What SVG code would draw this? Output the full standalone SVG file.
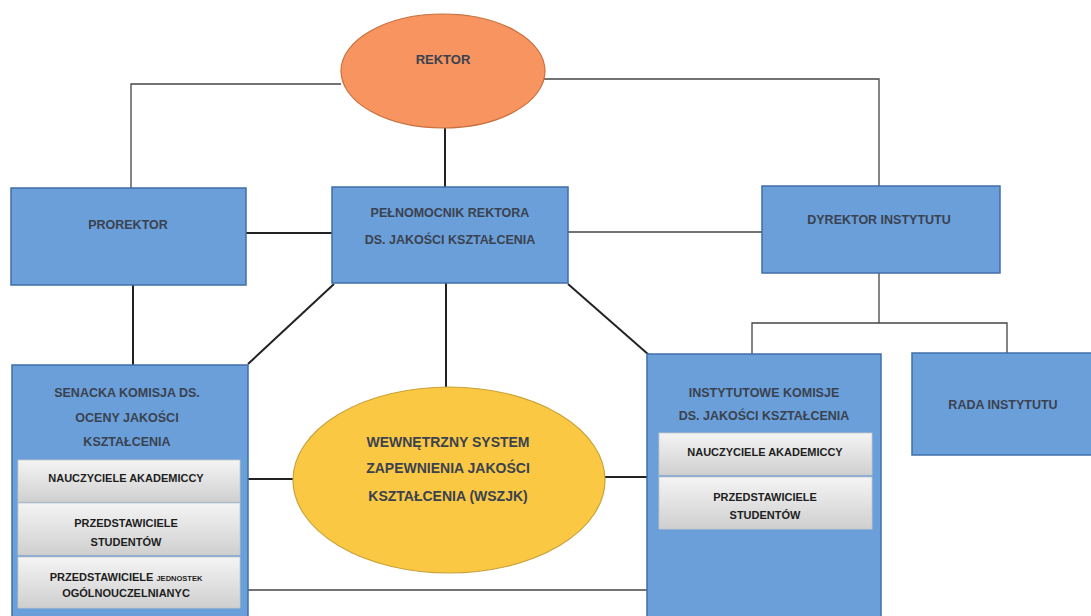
<svg xmlns="http://www.w3.org/2000/svg" width="1091" height="616" viewBox="0 0 1091 616">
<defs>
<linearGradient id="gr" x1="0" y1="0" x2="0" y2="1">
<stop offset="0" stop-color="#f4f4f4"/>
<stop offset="0.5" stop-color="#e2e2e2"/>
<stop offset="1" stop-color="#cfcfcf"/>
</linearGradient>
</defs>
<style>
.box{fill:#6b9fd9;stroke:#3f6fa8;stroke-width:1.5}
.inner{fill:url(#gr);stroke:#c8c8c8;stroke-width:0.8}
.t{font-family:"Liberation Sans",Arial,sans-serif;font-weight:bold;fill:#3a4250;text-anchor:middle}
.m{font-size:12.5px}
.s{font-size:11px;fill:#1e1e1e}
.thin{stroke:#444;stroke-width:1.3;fill:none}
.thick{stroke:#222;stroke-width:2;fill:none}
</style>
<rect width="1091" height="616" fill="#fff"/>
<g id="connectors">
<polyline class="thin" points="341,84 131,84 131,189"/>
<polyline class="thin" points="544,79 879,79 879,186"/>
<line class="thick" x1="445" y1="128" x2="445" y2="187"/>
<line class="thick" x1="246" y1="233" x2="332" y2="233"/>
<line class="thin" x1="568" y1="232" x2="762" y2="232"/>
<polyline class="thin" points="879,273 879,323"/>
<polyline class="thin" points="752,354 752,323 1007,323 1007,353"/>
<line class="thick" x1="133" y1="285" x2="133" y2="365"/>
<line class="thick" x1="248" y1="364" x2="334" y2="284"/>
<line class="thick" x1="568" y1="284" x2="649" y2="355"/>
<line class="thick" x1="446" y1="283" x2="446" y2="387"/>
<line class="thick" x1="248" y1="479" x2="293" y2="479"/>
<line class="thick" x1="605" y1="477" x2="647" y2="477"/>
<line class="thin" x1="248" y1="590" x2="647" y2="590"/>
</g>
<g id="rektor">
<ellipse cx="443" cy="71" rx="102" ry="57" fill="#f79460" stroke="#c8703e" stroke-width="1.2"/>
<text class="t" x="443" y="64" font-size="13">REKTOR</text>
</g>
<g id="prorektor">
<rect class="box" x="11" y="188" width="235" height="97"/>
<text class="t m" x="128" y="229">PROREKTOR</text>
</g>
<g id="pelnomocnik">
<rect class="box" x="332" y="187" width="236" height="96"/>
<text class="t m" x="450" y="217">PEŁNOMOCNIK REKTORA</text>
<text class="t m" x="450" y="244">DS. JAKOŚCI KSZTAŁCENIA</text>
</g>
<g id="dyrektor">
<rect class="box" x="762" y="186" width="238" height="87"/>
<text class="t m" x="879" y="224">DYREKTOR INSTYTUTU</text>
</g>
<g id="senacka">
<rect class="box" x="12" y="365" width="236" height="260"/>
<text class="t m" x="127" y="397">SENACKA KOMISJA DS.</text>
<text class="t m" x="127" y="422">OCENY JAKOŚCI</text>
<text class="t m" x="127" y="446">KSZTAŁCENIA</text>
<rect class="inner" x="18" y="460" width="222" height="42"/>
<text class="t s" x="126" y="482">NAUCZYCIELE AKADEMICCY</text>
<rect class="inner" x="18" y="503" width="222" height="52"/>
<text class="t s" x="126" y="527">PRZEDSTAWICIELE</text>
<text class="t s" x="126" y="546">STUDENTÓW</text>
<rect class="inner" x="18" y="557" width="222" height="51"/>
<text class="t s" x="126" y="581">PRZEDSTAWICIELE <tspan font-size="7.5px">JEDNOSTEK</tspan></text>
<text class="t s" x="126" y="597" font-size="8.5px">OGÓLNOUCZELNIANYC</text>
</g>
<g id="wszjk">
<ellipse cx="449" cy="480" rx="156" ry="93" fill="#fac842" stroke="#c9a23a" stroke-width="1.2"/>
<text class="t" x="448" y="447" font-size="14" fill="#333">WEWNĘTRZNY SYSTEM</text>
<text class="t" x="448" y="473" font-size="14" fill="#333">ZAPEWNIENIA JAKOŚCI</text>
<text class="t" x="448" y="501" font-size="14" fill="#333">KSZTAŁCENIA (WSZJK)</text>
</g>
<g id="instytutowe">
<rect class="box" x="647" y="354" width="234" height="270"/>
<text class="t m" x="764" y="397">INSTYTUTOWE KOMISJE</text>
<text class="t m" x="764" y="420">DS. JAKOŚCI KSZTAŁCENIA</text>
<rect class="inner" x="659" y="433" width="213" height="42"/>
<text class="t s" x="765" y="456">NAUCZYCIELE AKADEMICCY</text>
<rect class="inner" x="659" y="477" width="213" height="52"/>
<text class="t s" x="765" y="501">PRZEDSTAWICIELE</text>
<text class="t s" x="765" y="519">STUDENTÓW</text>
</g>
<g id="rada">
<rect class="box" x="912" y="353" width="182" height="102"/>
<text class="t m" x="1003" y="409">RADA INSTYTUTU</text>
</g>
</svg>
